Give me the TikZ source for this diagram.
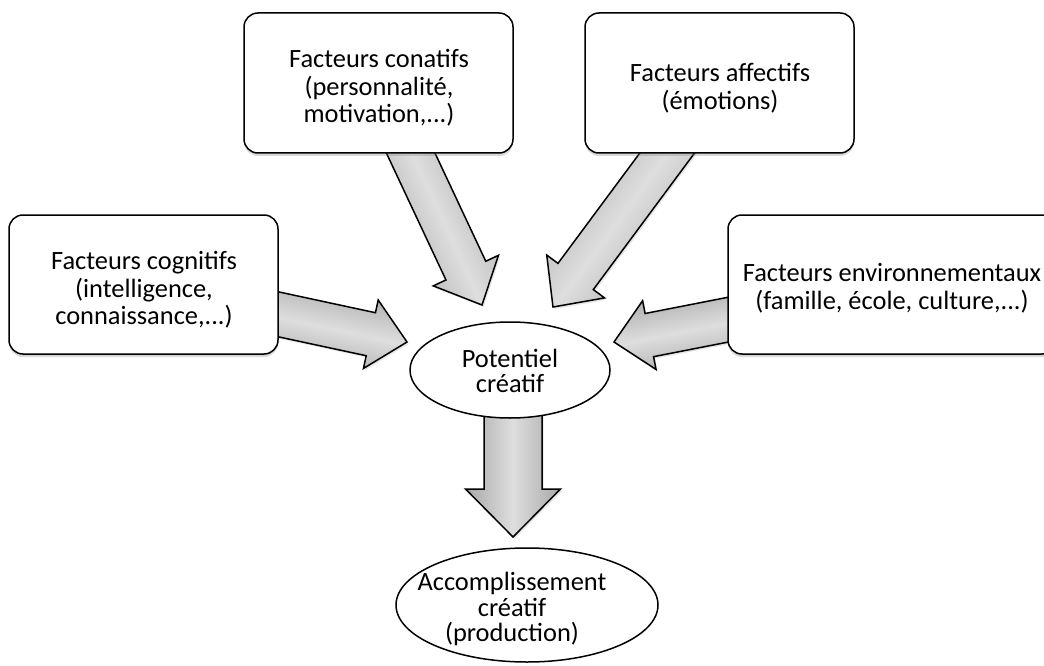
\documentclass[tikz,border=0pt]{standalone}
\usepackage{fontspec}
\setmainfont{Carlito}
\usetikzlibrary{calc,shapes.geometric,shadows}
\definecolor{arrowdark}{RGB}{168,168,168}
\definecolor{arrowlight}{RGB}{222,222,222}
\tikzset{
  boxstyle/.style={draw=black, line width=1.5pt, rounded corners=14pt, fill=white,
    drop shadow={shadow xshift=0pt, shadow yshift=-3pt, opacity=0.3}},
  btext/.style={align=center, font=\fontsize{26.4}{27.5}\selectfont, inner sep=0pt},
  ellstyle/.style={draw=black, line width=1.5pt, ellipse, fill=white, inner sep=0pt},
  ltext/.style={align=center, font=\fontsize{26.4}{25.5}\selectfont, inner sep=0pt},
  arrowstyle/.style={draw=black, line width=1.5pt, line join=miter,
    top color=arrowdark, bottom color=arrowdark, middle color=arrowlight,
    drop shadow={shadow xshift=1.5pt, shadow yshift=-2pt, opacity=0.2}}
}
% #1 start, #2 tip, #3 half shaft width, #4 half head width, #5 head length, #6 shading angle
\newcommand{\blockarrow}[6]{%
  \coordinate (hb) at ($(#2)!#5!(#1)$);
  \path[arrowstyle, shading angle=#6]
    ($(#1)!#3!90:(#2)$) -- ($(hb)!#3!-90:(#1)$) -- ($(hb)!#4!-90:(#1)$) -- (#2)
    -- ($(hb)!#4!90:(#1)$) -- ($(hb)!#3!90:(#1)$) -- ($(#1)!#3!-90:(#2)$) -- cycle;
}
\begin{document}
\begin{tikzpicture}[x=1pt,y=-1pt]
\useasboundingbox (0,0) rectangle (1044,666);

% arrow coordinates
\coordinate (s1) at (398,126);
\coordinate (t1) at (482,305);
\coordinate (s2) at (685,129);
\coordinate (t2) at (553,307);
\coordinate (s3) at (249,308);
\coordinate (t3) at (407,342);
\coordinate (s4) at (757,314);
\coordinate (t4) at (614,342);
\coordinate (s5) at (513,390);
\coordinate (t5) at (513,537);

\blockarrow{s1}{t1}{22pt}{36pt}{38pt}{-65}
\blockarrow{s2}{t2}{22pt}{36pt}{38pt}{-126.5}
\blockarrow{s3}{t3}{22pt}{35pt}{37pt}{-12}
\blockarrow{s4}{t4}{22pt}{35pt}{36pt}{-169}
\blockarrow{s5}{t5}{29pt}{47.5pt}{48pt}{-90}

% boxes
\node[boxstyle, minimum width=269pt, minimum height=140pt] (conatifs) at (378.5,83) {};
\node[btext] (conatifstext) at (379,88) {Facteurs conatifs\\(personnalité,\\motivation,...)};
\node[boxstyle, minimum width=269pt, minimum height=140pt] (affectifs) at (719.5,83) {};
\node[btext] (affectifstext) at (720,88) {Facteurs affectifs\\(émotions)};
\node[boxstyle, minimum width=269pt, minimum height=139pt] (cognitifs) at (143.5,284.5) {};
\node[btext] (cognitifstext) at (144,290) {Facteurs cognitifs\\(intelligence,\\connaissance,...)};
\node[boxstyle, minimum width=328pt, minimum height=139pt] (environ) at (892,284.5) {};
\node[btext] (environtext) at (892,288) {Facteurs environnementaux\\(famille, école, culture,...)};

% ellipses
\node[ellstyle, minimum width=200pt, minimum height=96pt] (potentiel) at (510,370) {};
\node[ltext] (potentieltext) at (510,371) {Potentiel\\créatif};
\node[ellstyle, minimum width=262pt, minimum height=114pt] (accomp) at (527,605) {};
\node[ltext] (accomptext) at (512,609) {Accomplissement\\créatif\\(production)};
\end{tikzpicture}
\end{document}
